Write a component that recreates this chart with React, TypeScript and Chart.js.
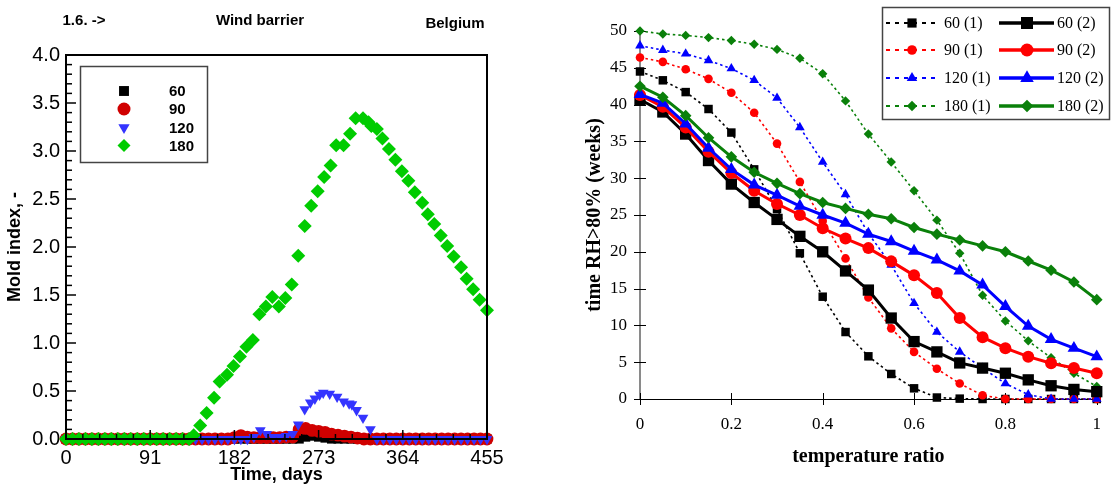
import React, { useEffect, useRef } from "react";
import { Chart, registerables } from "chart.js";
Chart.register(...registerables);

// ---------------- Left chart data (Mold index vs time) ----------------
const dayTicks = [0, 91, 182, 273, 364, 455];
const dayTickLabels = ["0", "91", "182", "273", "364", "455"];
const moldTicks = [0, 0.5, 1, 1.5, 2, 2.5, 3, 3.5, 4];
const moldTickLabels = ["0.0", "0.5", "1.0", "1.5", "2.0", "2.5", "3.0", "3.5", "4.0"];

const weekDays = [0, 7, 14, 21, 28, 35, 42, 49, 56, 63, 70, 77, 84, 91, 98, 105, 112, 119, 126, 133, 140, 147, 154, 161, 168, 175, 182, 189, 196, 203, 210, 217, 224, 231, 238, 245, 252, 259, 266, 273, 280, 287, 294, 301, 308, 315, 322, 329, 336, 343, 350, 357, 364, 371, 378, 385, 392, 399, 406, 413, 420, 427, 434, 441, 448, 455];

const mold60 = [0, 0, 0, 0, 0, 0, 0, 0, 0, 0, 0, 0, 0, 0, 0, 0, 0, 0, 0, 0, 0, 0, 0, 0, 0, 0, 0, 0, 0, 0, 0, 0, 0, 0, 0, 0, 0, 0.02, 0.03, 0.02, 0.01, 0, 0, 0, 0, 0, 0, 0, 0, 0, 0, 0, 0, 0, 0, 0, 0, 0, 0, 0, 0, 0, 0, 0, 0, 0];

const mold90 = [0, 0, 0, 0, 0, 0, 0, 0, 0, 0, 0, 0, 0, 0, 0, 0, 0, 0, 0, 0, 0, 0, 0, 0, 0, 0, 0.015, 0.035, 0.02, 0.015, 0.015, 0.015, 0.015, 0.015, 0.02, 0.02, 0.1, 0.11, 0.09, 0.08, 0.07, 0.05, 0.04, 0.03, 0.02, 0.01, 0, 0, 0, 0, 0, 0, 0, 0, 0, 0, 0, 0, 0, 0, 0, 0, 0, 0, 0, 0];

const blue120Days = [0, 7, 14, 21, 28, 35, 42, 49, 56, 63, 70, 77, 84, 91, 98, 105, 112, 119, 126, 133, 140, 147, 154, 161, 168, 175, 182, 189, 196, 203, 210, 217, 224, 231, 238, 245, 251, 258, 264, 269, 274, 278, 285, 293, 300, 306, 309, 314, 321, 329, 336, 343, 350, 357, 364, 371, 378, 385, 392, 399, 406, 413, 420, 427, 434, 441, 448, 455];
const mold120 = [0, 0, 0, 0, 0, 0, 0, 0, 0, 0, 0, 0, 0, 0, 0, 0, 0, 0, 0, 0, 0, 0, 0, 0, 0, 0, 0, 0, 0, 0.02, 0.09, 0.05, 0.02, 0.02, 0.03, 0.05, 0.15, 0.31, 0.38, 0.42, 0.46, 0.48, 0.47, 0.44, 0.39, 0.37, 0.36, 0.3, 0.22, 0.1, 0, 0, 0, 0, 0, 0, 0, 0, 0, 0, 0, 0, 0, 0, 0, 0, 0, 0];

const green180Days = [0, 7, 14, 21, 28, 35, 42, 49, 56, 63, 70, 77, 84, 91, 98, 105, 112, 119, 126, 133, 138, 145, 152, 160, 166, 174, 181, 188, 195, 202, 209, 216, 223, 230, 237, 244, 251, 258, 265, 272, 279, 286, 292, 300, 307, 313, 321, 327, 330, 336, 342, 349, 356, 363, 370, 377, 385, 391, 398, 405, 412, 419, 427, 433, 440, 447, 455];
const mold180 = [0, 0, 0, 0, 0, 0, 0, 0, 0, 0, 0, 0, 0, 0, 0, 0, 0, 0, 0, 0, 0.04, 0.14, 0.27, 0.43, 0.6, 0.67, 0.76, 0.86, 0.96, 1.03, 1.3, 1.38, 1.48, 1.38, 1.47, 1.61, 1.91, 2.22, 2.43, 2.58, 2.73, 2.85, 3.06, 3.06, 3.18, 3.34, 3.34, 3.3, 3.26, 3.23, 3.13, 3.02, 2.91, 2.79, 2.69, 2.57, 2.46, 2.34, 2.24, 2.12, 2.01, 1.9, 1.79, 1.67, 1.56, 1.45, 1.34];

// ---------------- Right chart data (time RH>80% vs temperature ratio) ----------------
const ratios = [0, 0.05, 0.1, 0.15, 0.2, 0.25, 0.3, 0.35, 0.4, 0.45, 0.5, 0.55, 0.6, 0.65, 0.7, 0.75, 0.8, 0.85, 0.9, 0.95, 1];
const ratioTicks = [0, 0.2, 0.4, 0.6, 0.8, 1];
const ratioTickLabels = ["0", "0.2", "0.4", "0.6", "0.8", "1"];
const weeksTicks = [0, 5, 10, 15, 20, 25, 30, 35, 40, 45, 50];
const weeksTickLabels = ["0", "5", "10", "15", "20", "25", "30", "35", "40", "45", "50"];

const s60a = [44.5, 43.3, 41.7, 39.4, 36.2, 31.2, 25.8, 19.8, 13.9, 9.1, 5.8, 3.4, 1.45, 0.2, 0.05, 0, 0, 0, 0, 0, 0];
const s60b = [40.7, 39.0, 36.0, 32.4, 29.2, 26.7, 24.4, 22.1, 20.0, 17.4, 14.8, 11.0, 7.8, 6.4, 4.9, 4.2, 3.5, 2.6, 1.8, 1.3, 1.0];
const s90a = [46.4, 45.8, 44.8, 43.5, 41.6, 38.9, 34.7, 29.5, 24.2, 19.1, 13.8, 9.6, 6.4, 4.1, 2.1, 0.5, 0, 0, 0, 0, 0];
const s90b = [41.3, 39.7, 36.9, 33.6, 30.7, 28.3, 26.5, 25.0, 23.2, 21.8, 20.5, 18.7, 16.8, 14.4, 11.0, 8.4, 6.9, 5.75, 4.85, 4.2, 3.5];
const s120a = [48.0, 47.4, 46.9, 46.0, 44.9, 43.3, 40.9, 36.9, 32.2, 27.8, 22.5, 18.2, 13.0, 9.1, 6.4, 4.2, 2.1, 0.6, 0, 0, 0];
const s120b = [41.4, 40.2, 37.4, 34.1, 31.2, 29.1, 27.7, 26.2, 25.0, 23.9, 22.4, 21.4, 20.1, 18.9, 17.4, 15.5, 12.6, 9.9, 8.1, 6.9, 5.75];
const s180a = [50.0, 49.6, 49.4, 49.1, 48.7, 48.2, 47.5, 46.3, 44.2, 40.5, 36.0, 32.2, 28.3, 24.3, 19.8, 14.1, 10.6, 7.9, 5.6, 3.5, 1.7];
const s180b = [42.5, 41.0, 38.5, 35.5, 32.9, 30.8, 29.3, 27.9, 26.7, 25.9, 25.1, 24.5, 23.3, 22.4, 21.6, 20.8, 20.0, 18.75, 17.5, 15.9, 13.5];

const pts = (xs: number[], ys: number[]) => xs.map((x, i) => ({ x, y: ys[i] }));

function drawMarker(ctx: CanvasRenderingContext2D, style: string, x: number, y: number, r: number, color: string, rotation = 0) {
  ctx.save();
  ctx.fillStyle = color;
  ctx.beginPath();
  if (style === "rect") {
    const s = r * Math.SQRT1_2;
    ctx.rect(x - s, y - s, 2 * s, 2 * s);
  } else if (style === "circle") {
    ctx.arc(x, y, r, 0, Math.PI * 2);
  } else if (style === "triangle") {
    let a = (rotation * Math.PI) / 180;
    ctx.moveTo(x + Math.sin(a) * r, y - Math.cos(a) * r);
    a += (2 * Math.PI) / 3;
    ctx.lineTo(x + Math.sin(a) * r, y - Math.cos(a) * r);
    a += (2 * Math.PI) / 3;
    ctx.lineTo(x + Math.sin(a) * r, y - Math.cos(a) * r);
    ctx.closePath();
  } else {
    ctx.moveTo(x - r, y);
    ctx.lineTo(x, y - r);
    ctx.lineTo(x + r, y);
    ctx.lineTo(x, y + r);
    ctx.closePath();
  }
  ctx.fill();
  ctx.restore();
}

const line = (ctx: CanvasRenderingContext2D, x1: number, y1: number, x2: number, y2: number) => {
  ctx.beginPath();
  ctx.moveTo(x1, y1);
  ctx.lineTo(x2, y2);
  ctx.stroke();
};

const leftPlugin = {
  id: "leftDecor",
  afterDatasetsDraw(chart: any) {
    const { ctx, chartArea, scales } = chart;
    const { left, right, top, bottom } = chartArea;
    const x = scales.x;
    const y = scales.y;
    ctx.save();
    ctx.strokeStyle = "#000";
    ctx.lineWidth = 2;
    ctx.strokeRect(left, top, right - left, bottom - top);
    ctx.lineWidth = 1.5;
    for (let k = 0; k <= 40; k++) {
      const py = y.getPixelForValue(k / 10);
      line(ctx, left, py, left + (k % 5 === 0 ? 10 : 6), py);
    }
    for (let k = 0; k <= 25; k++) {
      const px = x.getPixelForValue((k * 91) / 5);
      line(ctx, px, bottom, px, bottom - (k % 5 === 0 ? 9 : 5));
    }
    ctx.restore();
  },
  afterDraw(chart: any) {
    const ctx: CanvasRenderingContext2D = chart.ctx;
    ctx.save();
    ctx.fillStyle = "#000";
    ctx.font = "bold 15px 'Liberation Sans', Arial, sans-serif";
    ctx.textAlign = "center";
    ctx.textBaseline = "middle";
    ctx.fillText("1.6. ->", 84, 21);
    ctx.fillText("Wind barrier", 260, 21);
    ctx.fillText("Belgium", 455, 24);
    // legend box
    ctx.strokeStyle = "#444";
    ctx.lineWidth = 1.5;
    ctx.strokeRect(80.5, 66.5, 127, 96);
    const rows = [91, 109, 127.5, 145.5];
    const sizes = [7, 6.5, 6.5, 6.5];
    chart.data.datasets.forEach((ds: any, i: number) => {
      drawMarker(ctx, ds.pointStyle, 124, rows[i], sizes[i], ds.pointBackgroundColor, ds.pointRotation || 0);
      ctx.textAlign = "left";
      ctx.fillStyle = "#000";
      ctx.fillText(ds.label, 169, rows[i] + 1);
    });
    ctx.restore();
  },
};

const rightPlugin = {
  id: "rightDecor",
  beforeDatasetsDraw(chart: any) {
    const { ctx, chartArea, scales } = chart;
    const { left, right, top, bottom } = chartArea;
    ctx.save();
    ctx.strokeStyle = "#8a8a8a";
    ctx.lineWidth = 2;
    line(ctx, left, bottom, left, top);
    ctx.strokeStyle = "#000";
    ctx.lineWidth = 1;
    line(ctx, left, bottom + 0.5, right, bottom + 0.5);
    weeksTicks.forEach((v) => {
      const py = Math.round(scales.y.getPixelForValue(v)) + 0.5;
      line(ctx, left - 6, py, left + 6, py);
    });
    ratioTicks.forEach((v) => {
      const px = Math.round(scales.x.getPixelForValue(v)) + 0.5;
      line(ctx, px, bottom - 6, px, bottom + 6);
    });
    ctx.restore();
  },
  afterDraw(chart: any) {
    const ctx: CanvasRenderingContext2D = chart.ctx;
    ctx.save();
    ctx.fillStyle = "#fff";
    ctx.fillRect(342, 7, 227, 112);
    ctx.strokeStyle = "#444";
    ctx.lineWidth = 1.5;
    ctx.strokeRect(342.5, 7.5, 227, 112);
    const rowY = [23, 50, 78, 106];
    chart.data.datasets.forEach((ds: any, i: number) => {
      const row = Math.floor(i % 4);
      const col = i < 4 ? 0 : 1;
      const y = rowY[row];
      const x1 = col === 0 ? 346 : 459;
      const x2 = col === 0 ? 398 : 514;
      const mx = col === 0 ? 372 : 487;
      const tx = col === 0 ? 404 : 517;
      ctx.strokeStyle = ds.borderColor;
      ctx.lineWidth = col === 0 ? 2 : 3.5;
      ctx.setLineDash(col === 0 ? [4, 5] : []);
      line(ctx, x1, y, x2, y);
      ctx.setLineDash([]);
      drawMarker(ctx, ds.pointStyle, mx, y, ds.pointRadius + 0.5, ds.pointBackgroundColor, 0);
      ctx.fillStyle = "#000";
      ctx.font = "16px 'Liberation Serif', 'Times New Roman', serif";
      ctx.textAlign = "left";
      ctx.textBaseline = "middle";
      ctx.fillText(ds.label, tx, y + 1);
    });
    ctx.restore();
  },
};

function leftConfig(): any {
  const sansTick = { family: "'Liberation Sans', Arial, sans-serif", size: 20 };
  const sansTitle = { family: "'Liberation Sans', Arial, sans-serif", size: 18, weight: "bold", lineHeight: 1 };
  const mk = (label: string, xs: number[], ys: number[], style: string, r: number, color: string, order: number, rot = 0) => ({
    label,
    data: pts(xs, ys),
    pointStyle: style,
    pointRadius: r,
    pointRotation: rot,
    pointBackgroundColor: color,
    pointBorderColor: color,
    pointBorderWidth: 0,
    backgroundColor: color,
    borderColor: color,
    showLine: false,
    clip: false,
    order,
  });
  return {
    type: "scatter",
    data: {
      datasets: [
        mk("60", weekDays, mold60, "rect", 6.5, "#000000", 4),
        mk("90", weekDays, mold90, "circle", 6.4, "#d00000", 3),
        mk("120", blue120Days, mold120, "triangle", 6.2, "#3434ff", 2, 180),
        mk("180", green180Days, mold180, "rectRot", 7, "#00cc00", 1),
      ],
    },
    options: {
      animation: false,
      responsive: false,
      devicePixelRatio: 1,
      events: [],
      layout: { padding: { left: 0, top: 55, right: 33, bottom: 0 } },
      plugins: { legend: { display: false }, tooltip: { enabled: false } },
      scales: {
        x: {
          type: "linear",
          min: 0,
          max: 455,
          afterBuildTicks: (s: any) => {
            s.ticks = dayTicks.map((v) => ({ value: v }));
          },
          afterFit: (s: any) => {
            s.height = 45;
          },
          ticks: {
            callback: (_v: any, i: number) => dayTickLabels[i],
            font: sansTick,
            color: "#000",
            padding: 7,
            maxRotation: 0,
            autoSkip: false,
          },
          grid: { display: false, drawTicks: false },
          border: { display: false },
          title: { display: true, text: "Time, days", font: sansTitle, color: "#000", padding: { top: 0, bottom: 0 } },
        },
        y: {
          type: "linear",
          min: 0,
          max: 4,
          afterBuildTicks: (s: any) => {
            s.ticks = moldTicks.map((v) => ({ value: v }));
          },
          afterFit: (s: any) => {
            s.width = 66;
          },
          ticks: {
            callback: (_v: any, i: number) => moldTickLabels[i],
            font: sansTick,
            color: "#000",
            padding: 6,
            autoSkip: false,
          },
          grid: { display: false, drawTicks: false },
          border: { display: false },
          title: { display: true, text: "Mold index, -", font: sansTitle, color: "#000", padding: { top: 6, bottom: 0 } },
        },
      },
    },
    plugins: [leftPlugin],
  };
}

function rightConfig(): any {
  const serifTick = { family: "'Liberation Serif', 'Times New Roman', serif", size: 17 };
  const serifTitle = { family: "'Liberation Serif', 'Times New Roman', serif", size: 20, weight: "bold", lineHeight: 1 };
  const mk = (label: string, ys: number[], style: string, r: number, color: string, dashed: boolean, order: number) => ({
    label,
    data: pts(ratios, ys),
    pointStyle: style,
    pointRadius: r,
    pointBackgroundColor: color,
    pointBorderColor: color,
    pointBorderWidth: 0,
    backgroundColor: color,
    borderColor: color,
    borderWidth: dashed ? 1.6 : 3,
    borderDash: dashed ? [2.5, 3] : [],
    showLine: true,
    tension: 0,
    clip: false,
    order,
  });
  const black = "#000000";
  const red = "#ff0000";
  const blue = "#0000ff";
  const green = "#0a800a";
  return {
    type: "scatter",
    data: {
      datasets: [
        mk("60 (1)", s60a, "rect", 6, black, true, 8),
        mk("90 (1)", s90a, "circle", 4.3, red, true, 7),
        mk("120 (1)", s120a, "triangle", 5.6, blue, true, 6),
        mk("180 (1)", s180a, "rectRot", 4.7, green, true, 5),
        mk("60 (2)", s60b, "rect", 8, black, false, 4),
        mk("90 (2)", s90b, "circle", 6, red, false, 3),
        mk("120 (2)", s120b, "triangle", 7.3, blue, false, 2),
        mk("180 (2)", s180b, "rectRot", 5.8, green, false, 1),
      ],
    },
    options: {
      animation: false,
      responsive: false,
      devicePixelRatio: 1,
      events: [],
      layout: { padding: { left: 0, top: 31, right: 14, bottom: 0 } },
      plugins: { legend: { display: false }, tooltip: { enabled: false } },
      scales: {
        x: {
          type: "linear",
          min: 0,
          max: 1,
          afterBuildTicks: (s: any) => {
            s.ticks = ratioTicks.map((v) => ({ value: v }));
          },
          afterFit: (s: any) => {
            s.height = 85;
          },
          ticks: {
            callback: (_v: any, i: number) => ratioTickLabels[i],
            font: serifTick,
            color: "#000",
            padding: 15,
            maxRotation: 0,
            autoSkip: false,
          },
          grid: { display: false, drawTicks: false },
          border: { display: false },
          title: { display: true, text: "temperature ratio", font: serifTitle, color: "#000", padding: { top: 0, bottom: 17 } },
        },
        y: {
          type: "linear",
          min: 0,
          max: 50,
          afterBuildTicks: (s: any) => {
            s.ticks = weeksTicks.map((v) => ({ value: v }));
          },
          afterFit: (s: any) => {
            s.width = 100;
          },
          ticks: {
            callback: (_v: any, i: number) => weeksTickLabels[i],
            font: serifTick,
            color: "#000",
            padding: 13,
            autoSkip: false,
          },
          grid: { display: false, drawTicks: false },
          border: { display: false },
          title: { display: true, text: "time RH>80% (weeks)", font: serifTitle, color: "#000", padding: { top: 45, bottom: 0 } },
        },
      },
    },
    plugins: [rightPlugin],
  };
}

export default function App() {
  const leftRef = useRef<HTMLCanvasElement>(null);
  const rightRef = useRef<HTMLCanvasElement>(null);
  useEffect(() => {
    const c1 = new Chart(leftRef.current as HTMLCanvasElement, leftConfig());
    const c2 = new Chart(rightRef.current as HTMLCanvasElement, rightConfig());
    return () => {
      c1.destroy();
      c2.destroy();
    };
  }, []);
  return (
    <div style={{ position: "fixed", left: 0, top: 0, width: 1116, height: 484, background: "#fff" }}>
      <canvas ref={leftRef} width={520} height={484} style={{ position: "absolute", left: 0, top: 0, width: 520, height: 484 }} />
      <canvas ref={rightRef} width={576} height={484} style={{ position: "absolute", left: 540, top: 0, width: 576, height: 484 }} />
    </div>
  );
}
